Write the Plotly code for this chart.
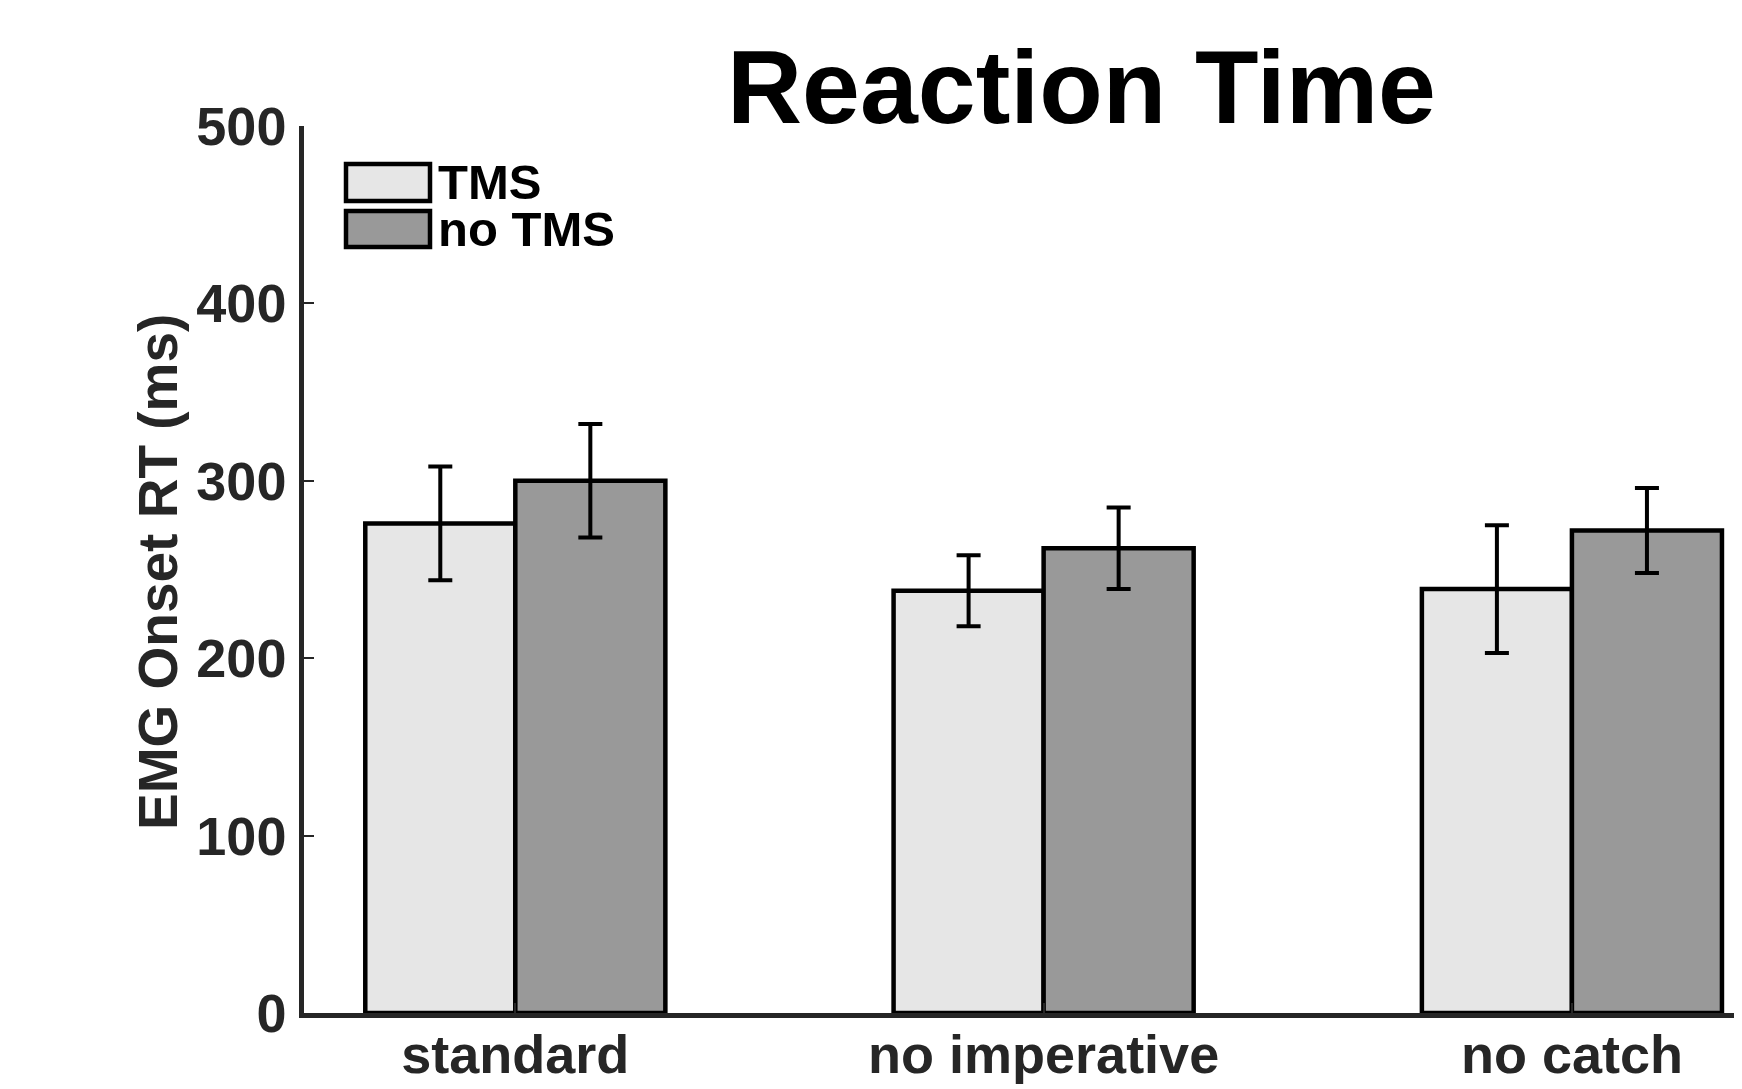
import plotly.graph_objects as go

categories = ["standard", "no imperative", "no catch"]
x_pos = [1, 2, 3]
tms_values = [276, 238, 239]
tms_err = [32, 20, 36]
notms_values = [300, 262, 272]
notms_err = [32, 23, 24]
y_ticks = [0, 100, 200, 300, 400, 500]

# page body has an 8px margin; compensate so window positions match
OFF = 8
W, H = 1742, 1089
L, R, T, B = 304 - OFF, 0, 126 - OFF, 1089 - (1013 - OFF)
FONT = "Liberation Sans"
AX = "#262626"

pw = W - L - R
ph = H - T - B
def px(xw):
    return (xw - OFF - L) / pw
def py(yw):
    return 1 - (yw - OFF - T) / ph

# x range: 0.6 at plot left, 528.3 px per category
x_right = 0.6 + pw / 528.3

fig = go.Figure()
fig.add_trace(go.Bar(
    x=x_pos, y=tms_values, name="TMS",
    marker=dict(color="#e6e6e6", line=dict(color="black", width=4.5)),
    error_y=dict(type="data", array=tms_err, color="black", thickness=4, width=12),
))
fig.add_trace(go.Bar(
    x=x_pos, y=notms_values, name="no TMS",
    marker=dict(color="#999999", line=dict(color="black", width=4.5)),
    error_y=dict(type="data", array=notms_err, color="black", thickness=4, width=12),
))

fig.update_layout(
    width=W, height=H,
    margin=dict(l=L, r=R, t=T, b=B, pad=0),
    paper_bgcolor="white", plot_bgcolor="white",
    barmode="group", bargap=0.432, bargroupgap=0,
    showlegend=False,
    font=dict(family=FONT, color=AX),
)
fig.update_xaxes(
    range=[0.6, x_right], tickvals=x_pos, ticktext=categories,
    showline=True, linecolor=AX, linewidth=4.5,
    ticks="inside", ticklen=10, tickwidth=2, tickcolor=AX,
    tickfont=dict(family=FONT, size=54, color=AX, weight="bold"),
    ticklabelstandoff=-10,
    showgrid=False, zeroline=False,
)
fig.update_yaxes(
    range=[0, 500], tickvals=y_ticks,
    showline=True, linecolor=AX, linewidth=4.5,
    ticks="inside", ticklen=10, tickwidth=2, tickcolor=AX,
    tickfont=dict(family=FONT, size=54, color=AX, weight="bold"),
    ticklabelstandoff=2,
    showgrid=False, zeroline=False,
)

# Title
fig.add_annotation(
    text="<b>Reaction Time</b>", xref="paper", yref="paper",
    x=px(1081), y=py(87),
    xanchor="center", yanchor="middle", showarrow=False,
    font=dict(family=FONT, size=104, color="black"),
)
# Y axis label
fig.add_annotation(
    text="<b>EMG Onset RT (ms)</b>", xref="paper", yref="paper",
    x=px(158), y=py(572),
    xanchor="center", yanchor="middle", textangle=-90, showarrow=False,
    font=dict(family=FONT, size=55, color=AX),
)

# Legend (manual)
legend_items = [("TMS", "#e6e6e6", 164, 201), ("no TMS", "#999999", 211, 247)]
for label, col, y0, y1 in legend_items:
    fig.add_shape(type="rect", xref="paper", yref="paper",
                  x0=px(346), x1=px(430), y0=py(y1), y1=py(y0),
                  fillcolor=col, line=dict(color="black", width=4.5))
    fig.add_annotation(text="<b>" + label + "</b>", xref="paper", yref="paper",
                       x=px(436), y=py((y0 + y1) / 2), xanchor="left", yanchor="middle",
                       showarrow=False, font=dict(family=FONT, size=49, color="black"))

fig.write_html("out.html")
